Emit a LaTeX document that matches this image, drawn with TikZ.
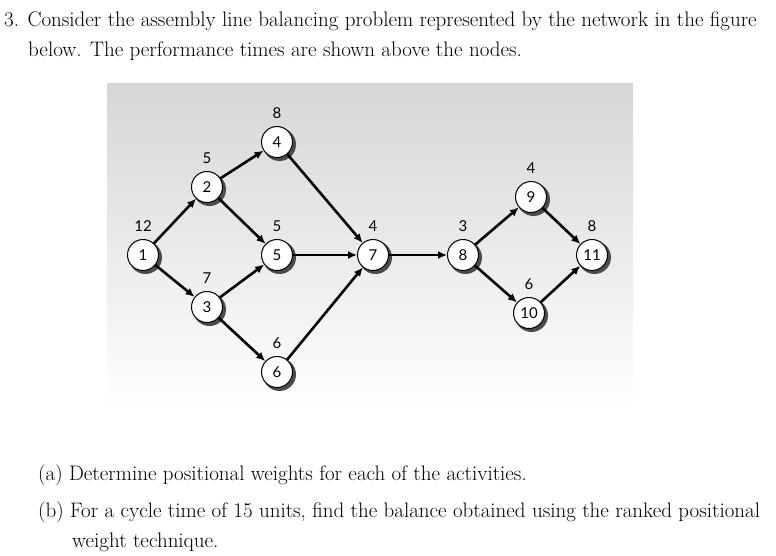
\documentclass[tikz,border=0pt]{standalone}
\usepackage{fontspec}
\newfontfamily\nodefont{Lato}
\usetikzlibrary{arrows.meta}
\begin{document}
\begin{tikzpicture}[x=1pt,y=-1pt,
  nd/.style={circle,draw=black,line width=1pt,fill=white,minimum size=31pt,inner sep=0pt,font=\nodefont\fontsize{15}{15}\selectfont},
  tm/.style={font=\nodefont\fontsize{15}{15}\selectfont},
  arr/.style={line width=2.6pt,-{Latex[length=9pt,width=8pt]}},
  txt/.style={anchor=base west,inner sep=0pt,font=\fontsize{21}{24}\selectfont}]
\useasboundingbox (0,0) rectangle (776,555);
\shade[top color=black!16,bottom color=white] (107,83) rectangle (633,410);
\foreach \n/\x/\y/\t in {1/143/255/12,2/207/187/5,3/207/307/7,4/277/142/8,5/277/255/5,6/277/372/6,7/373/255/4,8/463/255/3,9/531/197/4,10/529/313/6,11/592/255/8}{
  \fill[black!70] (\x+2.5,\y+2.5) circle (16.5);
  \node[nd] (n\n) at (\x,\y) {\n};
  \node[tm] (t\n) at (\x,\y-29) {\t};
}
\foreach \a/\b in {1/2,1/3,2/4,2/5,3/5,3/6,4/7,5/7,6/7,7/8,8/9,8/10,9/11,10/11}
  \draw[arr] (n\a) -- (n\b);
\node[txt] (l1) at (4,26) {3. Consider the assembly line balancing problem represented by the network in the figure};
\node[txt] (l2) at (28,56) {below. The performance times are shown above the nodes.};
\node[txt] (la) at (38,480) {(a) Determine positional weights for each of the activities.};
\node[txt] (lb) at (38,517) {(b) For a cycle time of 15 units, find the balance obtained using the ranked positional};
\node[txt] (lc) at (72,547) {weight technique.};
\end{tikzpicture}
\end{document}
